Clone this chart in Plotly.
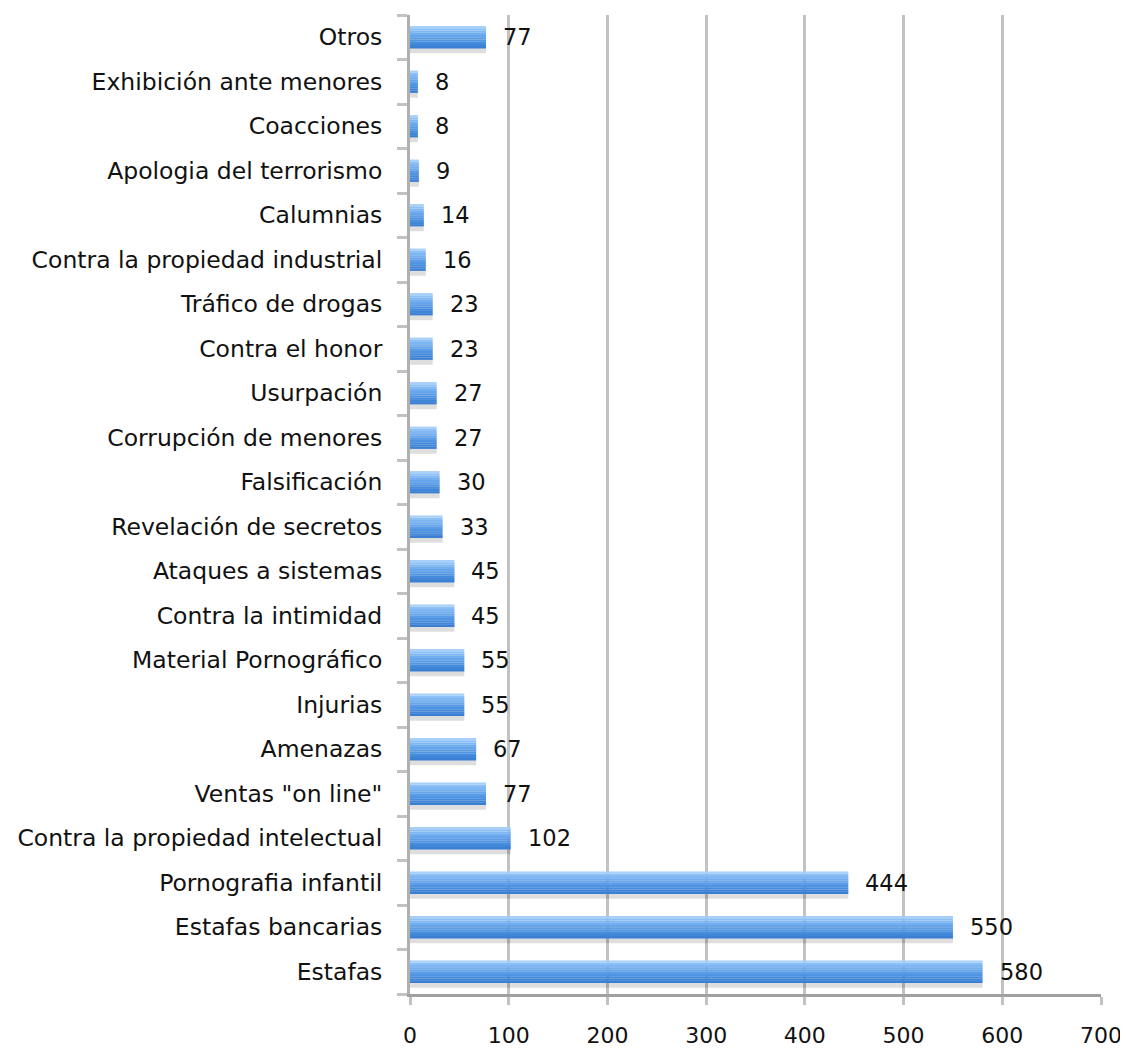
import plotly.graph_objects as go

categories = ["Estafas", "Estafas bancarias", "Pornografia infantil",
              "Contra la propiedad intelectual", "Ventas \"on line\"", "Amenazas",
              "Injurias", "Material Pornográfico", "Contra la intimidad",
              "Ataques a sistemas", "Revelación de secretos", "Falsificación",
              "Corrupción de menores", "Usurpación", "Contra el honor",
              "Tráfico de drogas", "Contra la propiedad industrial", "Calumnias",
              "Apologia del terrorismo", "Coacciones", "Exhibición ante menores",
              "Otros"]
values = [580, 550, 444, 102, 77, 67, 55, 55, 45, 45, 33, 30, 27, 27, 23, 23,
          16, 14, 9, 8, 8, 77]
x_ticks = [0, 100, 200, 300, 400, 500, 600, 700]

FONT = "DejaVu Sans"
fig = go.Figure()

# shadow
fig.add_trace(go.Bar(y=categories, x=values, orientation="h", width=0.5, offset=-0.36,
                     marker=dict(color="rgba(0,0,0,0.13)", line=dict(width=0)),
                     hoverinfo="skip", showlegend=False))

# gradient strips (bottom dark -> top light)
strip_colors = ["#3a7fd2", "#3f85d8", "#468cde", "#4f94e3", "#5a9ce8",
                "#65a5ec", "#71aef0", "#7db6f3", "#8bbff6", "#a6cff9"]
n = len(strip_colors)
h = 0.5 / n
for k, c in enumerate(strip_colors):
    fig.add_trace(go.Bar(y=categories, x=values, orientation="h", width=h * 1.02,
                         offset=-0.25 + k * h,
                         marker=dict(color=c, line=dict(width=0)),
                         hoverinfo="skip", showlegend=False))

for cat, v in zip(categories, values):
    fig.add_annotation(x=v, y=cat, text=str(v), showarrow=False, xanchor="left",
                       xshift=15, font=dict(family=FONT, size=22.5, color="#111"))

fig.update_layout(
    barmode="overlay",
    width=1120, height=1041,
    margin=dict(l=402, r=27, t=7, b=55),
    plot_bgcolor="white", paper_bgcolor="white",
    font=dict(family=FONT, size=23, color="#111"),
    xaxis=dict(range=[0, 700], tickvals=x_ticks, showgrid=True, gridcolor="#c2c2c2",
               gridwidth=3, showline=True, linecolor="#a0a0a0", linewidth=3,
               ticks="outside", ticklen=8, tickcolor="#c2c2c2", tickwidth=3,
               ticklabelstandoff=12, zeroline=False, automargin=False,
               tickfont=dict(family=FONT, size=22)),
    yaxis=dict(categoryorder="array", categoryarray=categories, showline=True,
               linecolor="#b0b0b0", linewidth=3, ticks="outside", ticklen=10,
               tickcolor="#c2c2c2", tickwidth=3, tickson="boundaries",
               ticklabelstandoff=20, showgrid=False, automargin=False,
               range=[-0.5, len(categories) - 0.5],
               tickfont=dict(family=FONT, size=23.5)),
)

fig.write_html("out.html")
